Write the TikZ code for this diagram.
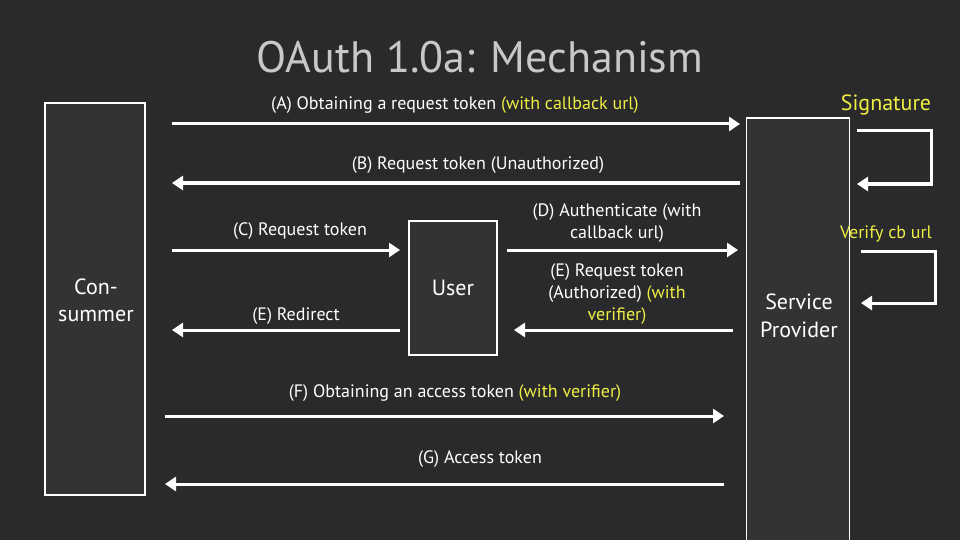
\documentclass[tikz,border=0pt]{standalone}
\usepackage{fontspec}
\setmainfont{PT Sans}
\usetikzlibrary{arrows.meta}
\definecolor{bg}{HTML}{2A2A2C}
\definecolor{boxfill}{HTML}{333336}
\definecolor{yel}{HTML}{EEEE44}
\definecolor{ttl}{HTML}{C8C8C8}
\begin{document}
\begin{tikzpicture}[x=1pt,y=-1pt,
  ent/.style={draw=white,line width=1.5pt,fill=boxfill,text=white,font=\fontsize{21}{24}\selectfont,align=center},
  arr/.style={draw=white,line width=3pt,-{Triangle[length=11pt,width=14pt]}},
  lbl/.style={text=white,font=\fontsize{18}{22}\selectfont,align=center},
  yellbl/.style={text=yel}]
\fill[bg] (0,0) rectangle (960,540);
\useasboundingbox (0,0) rectangle (960,540);
\node[text=ttl,font=\fontsize{44}{48}\selectfont] (title) at (480,57) {OAuth 1.0a: Mechanism};
\node[ent,minimum width=100pt,minimum height=392pt] (con) at (95,299) {};
\node[text=white,font=\fontsize{22}{27}\selectfont,align=center] (conT) at (96,300) {Con-\\summer};
\node[ent,minimum width=88pt,minimum height=134pt] (user) at (453,288) {};
\node[text=white,font=\fontsize{22}{24}\selectfont] (userT) at (453,288) {User};
\node[ent,minimum width=103pt,minimum height=426pt] (sp) at (798,331) {};
\node[text=white,font=\fontsize{22}{28}\selectfont,align=center] (spT) at (799,316) {Service\\Provider};
\coordinate (a1) at (172,124); \coordinate (a2) at (740,124);
\coordinate (b1) at (740,183); \coordinate (b2) at (172,183);
\coordinate (c1) at (172,250); \coordinate (c2) at (400,250);
\coordinate (d1) at (507,250); \coordinate (d2) at (738,250);
\coordinate (e1) at (733,330); \coordinate (e2) at (514,330);
\coordinate (r1) at (400,330); \coordinate (r2) at (172,330);
\coordinate (f1) at (165,416); \coordinate (f2) at (724,416);
\coordinate (g1) at (724,484); \coordinate (g2) at (165,484);
\draw[arr] (a1) -- (a2);
\draw[arr] (b1) -- (b2);
\draw[arr] (c1) -- (c2);
\draw[arr] (d1) -- (d2);
\draw[arr] (e1) -- (e2);
\draw[arr] (r1) -- (r2);
\draw[arr] (f1) -- (f2);
\draw[arr] (g1) -- (g2);
\coordinate (s1) at (857,131); \coordinate (s2) at (931,131); \coordinate (s3) at (931,184); \coordinate (s4) at (857,184);
\draw[arr] (s1) -- (s2) -- (s3) -- (s4);
\coordinate (v1) at (861,251); \coordinate (v2) at (935,251); \coordinate (v3) at (935,303); \coordinate (v4) at (861,303);
\draw[arr] (v1) -- (v2) -- (v3) -- (v4);
\node[lbl] (la) at (455,105) {(A) Obtaining a request token \textcolor{yel}{(with callback url)}};
\node[lbl] (lb) at (478,165) {(B) Request token (Unauthorized)};
\node[lbl] (lc) at (300,231) {(C) Request token};
\node[lbl] (ld) at (617,223) {(D) Authenticate (with\\callback url)};
\node[lbl] (le) at (617,294) {(E) Request token\\(Authorized) \textcolor{yel}{(with}\\\textcolor{yel}{verifier)}};
\node[lbl] (lr) at (296,316) {(E) Redirect};
\node[lbl] (lf) at (455,393) {(F) Obtaining an access token \textcolor{yel}{(with verifier)}};
\node[lbl] (lg) at (480,459) {(G) Access token};
\node[text=yel,font=\fontsize{22}{24}\selectfont] (sig) at (886,105) {Signature};
\node[lbl,yellbl] (ver) at (886,234) {Verify cb url};
\end{tikzpicture}
\end{document}
